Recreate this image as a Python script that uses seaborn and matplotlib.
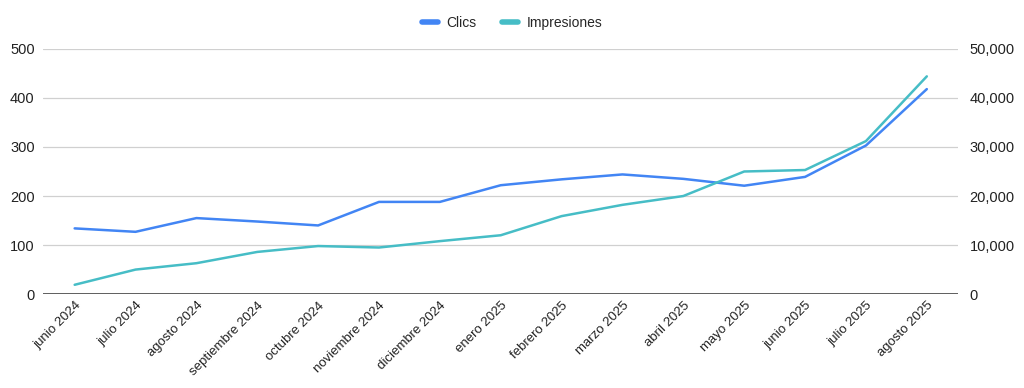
import pandas as pd
import matplotlib
matplotlib.use("Agg")
import matplotlib.pyplot as plt
import matplotlib.ticker as mticker
from matplotlib.lines import Line2D
import seaborn as sns

# Monthly data
months = ['junio 2024', 'julio 2024', 'agosto 2024', 'septiembre 2024', 'octubre 2024',
          'noviembre 2024', 'diciembre 2024', 'enero 2025', 'febrero 2025', 'marzo 2025',
          'abril 2025', 'mayo 2025', 'junio 2025', 'julio 2025', 'agosto 2025']
clics = [134, 127, 155, 148, 140, 188, 188, 222, 234, 244, 235, 221, 239, 303, 418]
impresiones = [1900, 5000, 6300, 8600, 9800, 9500, 10800, 12000, 15900, 18200,
               20000, 25000, 25300, 31200, 44400]

blue = '#4285F4'
teal = '#46BDC6'

df = pd.DataFrame({'mes': months, 'idx': range(len(months)),
                   'Clics': clics, 'Impresiones': impresiones})

sns.set_style('white')
plt.rcParams['font.family'] = ['Liberation Sans', 'DejaVu Sans']

fig, ax = plt.subplots(figsize=(10.24, 3.88), dpi=100)
fig.subplots_adjust(left=0.042, right=0.936, top=0.874, bottom=0.242)
ax2 = ax.twinx()

sns.lineplot(data=df, x='idx', y='Clics', ax=ax, color=blue, linewidth=1.8)
sns.lineplot(data=df, x='idx', y='Impresiones', ax=ax2, color=teal, linewidth=1.8)

ax.set_xlim(-0.52, len(months) - 0.48)
ax.set_ylim(0, 500)
ax2.set_ylim(0, 50000)
ax.set_yticks(range(0, 501, 100))
ax2.set_yticks(range(0, 50001, 10000))
ax2.yaxis.set_major_formatter(mticker.FuncFormatter(lambda v, p: f'{int(v):,}'))

ax.set_xticks(df['idx'])
ax.set_xticklabels(months, rotation=45, ha='right', rotation_mode='anchor',
                   fontsize=9.5, color='#222222')
ax.grid(axis='y', color='#d0d0d0', linewidth=0.9)
ax.set_axisbelow(True)
ax.set_xlabel('')
ax.set_ylabel('')
ax2.set_ylabel('')

for a in (ax, ax2):
    for s in ('top', 'left', 'right'):
        a.spines[s].set_visible(False)
    a.spines['bottom'].set_visible(False)
    a.tick_params(axis='y', length=0, labelsize=10.5, labelcolor='#222222')
ax.tick_params(axis='y', pad=6)
ax2.tick_params(axis='y', pad=8)
ax.tick_params(axis='x', length=0, pad=4)
ax.axhline(0, color='#444444', linewidth=1.2, zorder=1)

handles = [Line2D([], [], color=blue, linewidth=4),
           Line2D([], [], color=teal, linewidth=4)]
fig.legend(handles, ['Clics', 'Impresiones'], loc='center', bbox_to_anchor=(0.5, 0.94),
           ncol=2, frameon=False, fontsize=10, handlelength=1.2, columnspacing=1.8,
           handletextpad=0.6)

fig.savefig('out.png', dpi=100)
